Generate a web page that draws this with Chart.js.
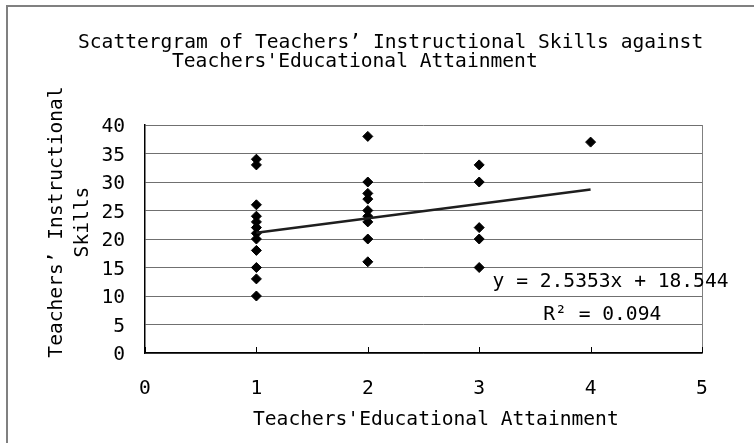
<!DOCTYPE html>
<html>
<head>
<meta charset="utf-8">
<script src="https://cdn.jsdelivr.net/npm/chart.js@4.4.1/dist/chart.umd.min.js"></script>
<style>
  html, body { margin: 0; padding: 0; background: #fff; }
  #wrap { width: 754px; height: 443px; }
</style>
</head>
<body>
<div id="wrap"><canvas id="chart" width="754" height="443"></canvas></div>
<script>
const FONT = "'DejaVu Sans Mono', 'Liberation Mono', monospace";
const FONT_SIZE = 19.6;

// one entry per teacher: educational attainment (x) and instructional skills (y)
const attainment = [1, 1, 1, 1, 1, 1, 1, 1, 1, 1, 1, 1,
                    2, 2, 2, 2, 2, 2, 2, 2, 2,
                    3, 3, 3, 3, 3,
                    4];
const skills = [34, 33, 26, 24, 23, 22, 21, 20, 18, 15, 13, 10,
                38, 30, 28, 27, 25, 24, 23, 20, 16,
                33, 30, 22, 20, 15,
                37];

// linear trendline end points (from x = 1 to x = 4)
const trendX = [1, 4];
const trendY = [21.08, 28.69];

const xTicks = [0, 1, 2, 3, 4, 5];
const yTicks = [0, 5, 10, 15, 20, 25, 30, 35, 40];

const titleLines = ["Scattergram of Teachers’ Instructional Skills against",
                    "Teachers'Educational Attainment"];
const xTitle = "Teachers'Educational Attainment";
const yTitle = ["Teachers’ Instructional", "Skills"];
const trendLabel = "y = 2.5353x + 18.544";
const r2Label = "R² = 0.094";

// outer frame, titles, equation and the small inner ticks on the x axis
const decorations = {
  id: "decorations",
  beforeDraw(chart) {
    const ctx = chart.ctx;
    ctx.save();
    ctx.fillStyle = "#fff";
    ctx.fillRect(0, 0, chart.width, chart.height);
    ctx.strokeStyle = "#808080";
    ctx.lineWidth = 2;
    ctx.strokeRect(7, 6, 800, 500);
    ctx.restore();
  },
  afterDraw(chart) {
    const { ctx, chartArea } = chart;
    const x = chart.scales.x, y = chart.scales.y;
    ctx.save();
    ctx.fillStyle = "#000";
    ctx.font = `${FONT_SIZE}px ${FONT}`;
    ctx.textBaseline = "alphabetic";

    ctx.textAlign = "left";
    ctx.fillText(titleLines[0], 78, 48);
    ctx.fillText(titleLines[1], 172, 67);

    // x axis title
    ctx.fillText(xTitle, 253, 425);

    // y axis title, rotated
    ctx.save();
    ctx.translate(0, 222);
    ctx.rotate(-Math.PI / 2);
    ctx.textAlign = "center";
    ctx.fillText(yTitle[0], 0, 61.5);
    ctx.fillText(yTitle[1], 0, 88);
    ctx.restore();

    // trendline equation
    ctx.textAlign = "left";
    ctx.fillText(trendLabel, x.getPixelForValue(3.12), y.getPixelForValue(11.6));
    ctx.fillText(r2Label, x.getPixelForValue(3.575), y.getPixelForValue(5.8));

    // tick marks pointing into the plot
    ctx.strokeStyle = "#000";
    ctx.lineWidth = 1;
    xTicks.forEach(v => {
      const px = Math.round(x.getPixelForValue(v)) + 0.5;
      ctx.beginPath();
      ctx.moveTo(px, chartArea.bottom);
      ctx.lineTo(px, chartArea.bottom - 6);
      ctx.stroke();
    });
    ctx.restore();
  }
};

const tickFont = { family: FONT, size: FONT_SIZE, lineHeight: 1.2 };

new Chart(document.getElementById("chart"), {
  type: "scatter",
  data: {
    datasets: [
      {
        label: "Trend",
        type: "line",
        data: trendX.map((v, i) => ({ x: v, y: trendY[i] })),
        borderColor: "#1e1e1e",
        borderWidth: 2.5,
        pointRadius: 0,
        fill: false,
        order: 0
      },
      {
        label: "Instructional Skills",
        data: attainment.map((v, i) => ({ x: v, y: skills[i] })),
        pointStyle: "rectRot",
        pointRadius: 5,
        backgroundColor: "#000",
        borderColor: "#000",
        borderWidth: 1,
        order: 1
      }
    ]
  },
  options: {
    responsive: false,
    animation: false,
    layout: { padding: { left: 7, top: 125, right: 52, bottom: 0 } },
    plugins: {
      legend: { display: false },
      tooltip: { enabled: false }
    },
    scales: {
      x: {
        type: "linear",
        min: 0,
        max: 5,
        afterBuildTicks: s => { s.ticks = xTicks.map(v => ({ value: v })); },
        afterFit: s => { s.height = 90; },
        grid: {
          color: c => (c.tick && c.tick.value === 5 ? "#808080" : "transparent"),
          drawTicks: false
        },
        border: { color: "#000", width: 1.5 },
        ticks: { font: tickFont, color: "#000", padding: 24, maxRotation: 0 }
      },
      y: {
        type: "linear",
        min: 0,
        max: 40,
        afterBuildTicks: s => { s.ticks = yTicks.map(v => ({ value: v })); },
        afterFit: s => { s.width = 138; },
        grid: { color: "#707070", drawTicks: false },
        border: { color: "#000", width: 1.5 },
        ticks: { font: tickFont, color: "#000", padding: 20, labelOffset: 2 }
      }
    }
  },
  plugins: [decorations]
});
</script>
</body>
</html>
